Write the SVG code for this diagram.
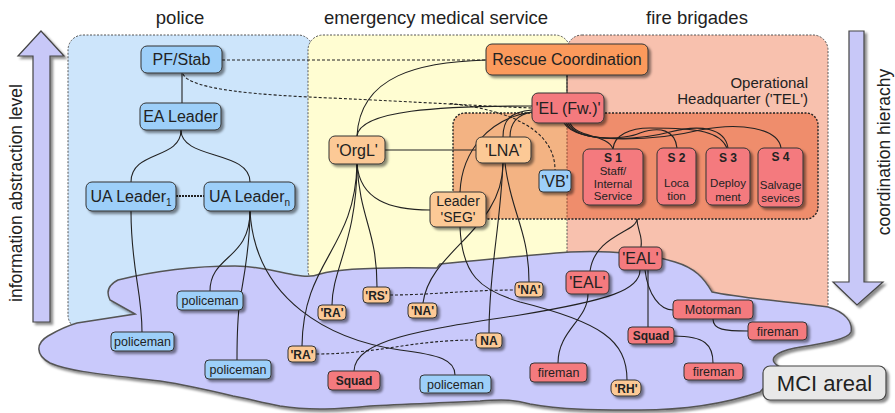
<svg xmlns="http://www.w3.org/2000/svg" width="895" height="413" viewBox="0 0 895 413">
<defs>
  <filter id="sh" x="-20%" y="-20%" width="150%" height="170%">
    <feDropShadow dx="2.5" dy="2.5" stdDeviation="1.1" flood-color="#000" flood-opacity="0.45"/>
  </filter>
  <style>
    text { font-family: "Liberation Sans", Arial, sans-serif; fill: #222; }
    .title { font-size: 18.5px; text-anchor: middle; }
    .side { font-size: 17.5px; text-anchor: middle; }
    .panel { stroke: #555; stroke-width: 1; stroke-dasharray: 2 1.5; }
    .n rect { stroke: #333; stroke-width: 1; filter: url(#sh); }
    .b rect { fill: #9dcff9; }
    .o rect { fill: #fcc996; }
    .r rect { fill: #f47a7e; }
    .rc rect { fill: #fb9a5b; }
    .n text { text-anchor: middle; }
    .t16 { font-size: 16px; }
    .t14 { font-size: 14px; }
    .t12 { font-size: 12.5px; }
    .tb { font-size: 12px; font-weight: bold; }
    .ts { font-size: 11.5px; }
    .c path { fill: none; stroke: #222; stroke-width: 1.1; }
    .c path.d { stroke-dasharray: 3 2; }
    .arrow { fill: #c8c8f8; stroke: #444; stroke-width: 1.2; filter: url(#sh); }
  </style>
</defs>

<rect width="895" height="413" fill="#fff"/>

<!-- organisation panels -->
<rect class="panel" x="68" y="35" width="245" height="295" rx="15" fill="#cde5fb"/>
<rect class="panel" x="308" y="35" width="262" height="250" rx="15" fill="#fffdd2"/>
<rect class="panel" x="567" y="35" width="261" height="285" rx="15" fill="#f8c1ae"/>

<text class="title" x="180" y="24">police</text>
<text class="title" x="436" y="24">emergency medical service</text>
<text class="title" x="697" y="24">fire brigades</text>

<!-- operational headquarter -->
<rect x="453" y="113" width="365" height="106" rx="12" fill="rgb(224,56,0)" fill-opacity="0.375" stroke="#222" stroke-width="1.4" stroke-dasharray="2 1.5"/>
<text x="808" y="88" font-size="15" text-anchor="end" fill="#333">Operational</text>
<text x="808" y="104" font-size="15" text-anchor="end" fill="#333">Headquarter ('TEL')</text>

<!-- incident area -->
<path d="M135,314 L110,300 C106,292 108,285 118,280 C150,272 190,266 235,266 C255,266 270,270 290,274 C300,276 310,278 320,274 C340,268 380,267 437,268 L440,264 C480,260 530,255 570,252 C610,250 650,254 675,262 C695,268 704,278 712,292 C740,298 790,302 828,307 C845,312 853,322 851,332 C848,340 820,344 795,348 C775,352 765,360 782,368 L760,392 C730,402 690,410 640,410 C600,410 560,410 530,404 C515,400 505,399 480,401 C440,403 400,404 370,406 C340,409 310,411 280,406 C260,402 245,398 233,396 C200,388 180,384 160,381 C110,375 70,372 50,363 C35,355 36,343 48,336 C60,329 70,325 77,323 Z" fill="#c9c9fb" stroke="#555" stroke-width="1.5" filter="url(#sh)"/>

<!-- axis arrows -->
<polygon class="arrow" points="41,31 64,56 50,56 50,322 33,322 33,56 18,56"/>
<text class="side" transform="translate(22,193) rotate(-90)">information abstraction level</text>
<polygon class="arrow" points="849,31 864,31 864,282 883,282 857,305 833,282 849,282"/>
<text class="side" transform="translate(890,152) rotate(-90)">coordination hierachy</text>

<!-- connectors -->
<g id="connectors" class="c">
  <path class="d" d="M222,60 H486"/>
  <path class="d" d="M183,74 C190,90 260,95 330,98 C420,102 480,106 532,108"/>
  <path class="d" d="M450,103.5 C510,110 555,130 555,170"/>
  <path d="M182,73 V103"/>
  <path d="M181,130 C181,160 131,150 131,182"/>
  <path d="M181,130 C181,160 250,150 250,182"/>
  <path d="M176,196 H204" style="stroke-width:2;stroke-dasharray:2 1"/>
  <path d="M131,211 C131,270 142,290 142,332"/>
  <path d="M250,211 C250,260 210,255 210,291"/>
  <path d="M250,211 C250,250 243,280 240,300 C237,320 237,340 237,360"/>
  <path d="M250,211 C255,300 330,340 400,350 C440,355 455,360 455,375"/>
  <path d="M486,60 C420,62 360,75 357,136"/>
  <path d="M567,75 V93"/>
  <path d="M532,106 C440,106 360,110 357,136"/>
  <path d="M532,110 C510,112 503,120 503,137"/>
  <path d="M532,112 C515,115 510,125 510,137"/>
  <path d="M532,112 C490,118 462,150 460,192"/>
  <path d="M460,227 C462,275 480,290 520,302 C600,322 627,340 627,380"/>
  <path d="M357,164 C360,200 390,210 430,210"/>
  <path d="M357,164 C357,240 332,270 332,305"/>
  <path d="M357,164 C360,220 377,230 377,287"/>
  <path d="M357,164 C355,250 303,260 302,346"/>
  <path d="M385,150 H476"/>
  <path d="M503,163 C503,230 430,250 423,303"/>
  <path d="M503,163 C500,230 489,270 489,333"/>
  <path d="M505,163 C510,210 529,230 529,282"/>
  <path class="d" d="M390,295 C430,295 470,290 515,290"/>
  <path class="d" d="M316,354 C380,354 410,340 476,340"/>
  <path d="M637,219 C637,232 595,235 590,271"/>
  <path d="M637,219 C637,230 643,235 641,247"/>
  <path d="M640,270 C640,290 610,300 520,315 C420,330 355,340 354,371"/>
  <path d="M588,294 C588,320 558,330 558,363"/>
  <path d="M645,270 C648,295 660,310 673,310"/>
  <path d="M648,270 V327"/>
  <path d="M713,319 C713,330 725,331 748,331"/>
  <path d="M674,336 C705,336 713,345 713,363"/>
  <path d="M570,123 C576,138 608,134 613,149"/>
  <path d="M568,123 C578,142 625,140 640,133 C660,126 675,130 677,148"/>
  <path d="M566,123 C578,144 640,140 670,132 C700,124 725,128 728,148"/>
  <path d="M564,123 C578,146 660,140 700,130 C740,122 778,128 781,148"/>
  <path d="M613,149 C614,135 630,128 650,128 C700,128 720,132 727,148"/>
</g>

<!-- police -->
<g id="pf-stab" class="n b"><rect x="141" y="46" width="81" height="27" rx="6"/><text class="t16" x="181.5" y="65">PF/Stab</text></g>
<g id="ea-leader" class="n b"><rect x="140" y="103" width="81" height="27" rx="6"/><text class="t16" x="180.5" y="122">EA Leader</text></g>
<g id="ua-leader-1" class="n b"><rect x="86" y="182" width="90" height="29" rx="6"/><text class="t16" x="131" y="202">UA Leader<tspan font-size="10" dy="4">1</tspan></text></g>
<g id="ua-leader-n" class="n b"><rect x="204" y="182" width="91" height="29" rx="6"/><text class="t16" x="249.5" y="202">UA Leader<tspan font-size="10" dy="4">n</tspan></text></g>
<g id="policeman-1" class="n b"><rect x="177" y="291" width="66" height="19" rx="4"/><text class="t12" x="210" y="305">policeman</text></g>
<g id="policeman-2" class="n b"><rect x="111" y="332" width="63" height="19" rx="4"/><text class="t12" x="142.5" y="346">policeman</text></g>
<g id="policeman-3" class="n b"><rect x="205" y="360" width="66" height="19" rx="4"/><text class="t12" x="238" y="374">policeman</text></g>
<g id="policeman-4" class="n b"><rect x="420" y="375" width="71" height="18" rx="4"/><text class="t12" x="455.5" y="388.5">policeman</text></g>
<g id="vb" class="n b"><rect x="539" y="170" width="32" height="22" rx="4"/><text class="t16" x="555" y="186.5">'VB'</text></g>

<!-- emergency medical service -->
<g id="orgl" class="n o"><rect x="329" y="136" width="56" height="28" rx="6"/><text class="t16" x="357" y="155.5">'OrgL'</text></g>
<g id="lna" class="n o"><rect x="476" y="137" width="55" height="26" rx="6"/><text class="t16" x="503.5" y="155.5">'LNA'</text></g>
<g id="leader-seg" class="n o"><rect x="430" y="192" width="56" height="35" rx="6"/><text class="t14" x="458" y="206">Leader</text><text class="t14" x="458" y="222">'SEG'</text></g>
<g id="ra-1" class="n o"><rect x="318" y="305" width="28" height="15" rx="4"/><text class="tb" x="332" y="317">'RA'</text></g>
<g id="rs" class="n o"><rect x="363" y="287" width="27" height="16" rx="4"/><text class="tb" x="376.5" y="299.5">'RS'</text></g>
<g id="na-1" class="n o"><rect x="408" y="303" width="29" height="15" rx="4"/><text class="tb" x="422.5" y="315">'NA'</text></g>
<g id="na-2" class="n o"><rect x="515" y="282" width="28" height="15" rx="4"/><text class="tb" x="529" y="294">'NA'</text></g>
<g id="ra-2" class="n o"><rect x="288" y="346" width="28" height="16" rx="4"/><text class="tb" x="302" y="358.5">'RA'</text></g>
<g id="na-3" class="n o"><rect x="476" y="333" width="26" height="15" rx="4"/><text class="tb" x="489" y="345">NA</text></g>
<g id="rh" class="n o"><rect x="611" y="380" width="30" height="16" rx="6"/><text class="tb" x="626" y="392.5">'RH'</text></g>

<!-- fire brigades -->
<g id="rescue-coordination" class="n rc"><rect x="486" y="44" width="162" height="31" rx="6"/><text class="t16" x="567" y="65">Rescue Coordination</text></g>
<g id="el-fw" class="n r"><rect x="532" y="93" width="72" height="30" rx="6"/><text class="t16" x="568" y="113.5">'EL (Fw.)'</text></g>
<g id="s1" class="n r"><rect x="583" y="149" width="60" height="56" rx="6"/><text class="tb" x="613" y="162">S 1</text><text class="ts" x="613" y="175">Staff/</text><text class="ts" x="613" y="188">Internal</text><text class="ts" x="613" y="200">Service</text></g>
<g id="s2" class="n r"><rect x="657" y="148" width="39" height="57" rx="6"/><text class="tb" x="676.5" y="162">S 2</text><text class="ts" x="676.5" y="187">Loca</text><text class="ts" x="676.5" y="200">tion</text></g>
<g id="s3" class="n r"><rect x="706" y="148" width="44" height="57" rx="6"/><text class="tb" x="728" y="162">S 3</text><text class="ts" x="728" y="187">Deploy</text><text class="ts" x="728" y="201">ment</text></g>
<g id="s4" class="n r"><rect x="758" y="148" width="45" height="59" rx="6"/><text class="tb" x="780.5" y="161">S 4</text><text class="ts" x="780.5" y="189">Salvage</text><text class="ts" x="780.5" y="202">sevices</text></g>
<g id="eal-1" class="n r"><rect x="619" y="247" width="43" height="23" rx="5"/><text class="t16" x="640.5" y="264">'EAL'</text></g>
<g id="eal-2" class="n r"><rect x="566" y="271" width="43" height="23" rx="5"/><text class="t16" x="587.5" y="288">'EAL'</text></g>
<g id="motorman" class="n r"><rect x="673" y="300" width="80" height="19" rx="4"/><text class="t12" x="713" y="314">Motorman</text></g>
<g id="fireman-1" class="n r"><rect x="748" y="322" width="59" height="18" rx="4"/><text class="t12" x="777.5" y="335.5">fireman</text></g>
<g id="squad-1" class="n r"><rect x="628" y="327" width="46" height="17" rx="4"/><text class="tb" x="651" y="340">Squad</text></g>
<g id="fireman-2" class="n r"><rect x="684" y="363" width="59" height="17" rx="4"/><text class="t12" x="713.5" y="376">fireman</text></g>
<g id="fireman-3" class="n r"><rect x="530" y="363" width="57" height="19" rx="4"/><text class="t12" x="558.5" y="377">fireman</text></g>
<g id="squad-2" class="n r"><rect x="328" y="371" width="52" height="19" rx="4"/><text class="tb" x="354" y="385">Squad</text></g>

<g id="mci-areal"><rect x="763" y="366" width="123" height="34" rx="7" fill="#e8e8e8" stroke="#444" stroke-width="1.2" filter="url(#sh)"/><text x="824.5" y="391" font-size="22" text-anchor="middle">MCI areal</text></g>
</svg>
